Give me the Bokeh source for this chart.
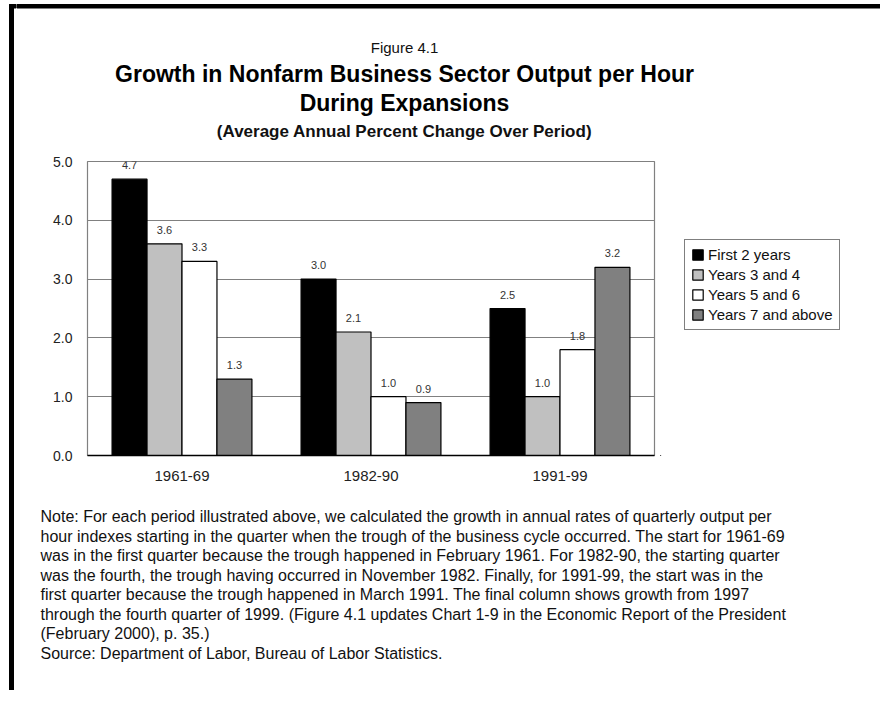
from bokeh.plotting import figure
from bokeh.layouts import row, column
from bokeh.models import (ColumnDataSource, FactorRange, Range1d, FixedTicker,
                          NumeralTickFormatter, Label, LabelSet)
from bokeh.transform import dodge
from bokeh.core.properties import value
from bokeh.embed import file_html
from bokeh.resources import INLINE

# ---------------- data ----------------
periods = ["1961-69", "1982-90", "1991-99"]
series_names = ["First 2 years", "Years 3 and 4", "Years 5 and 6", "Years 7 and above"]
first_2_years = [4.7, 3.0, 2.5]
years_3_and_4 = [3.6, 2.1, 1.0]
years_5_and_6 = [3.3, 1.0, 1.8]
years_7_and_above = [1.3, 0.9, 3.2]
y_ticks = [0, 1, 2, 3, 4, 5]

figure_label = "Figure 4.1"
title_lines = ["Growth in Nonfarm Business Sector Output per Hour",
               "During Expansions"]
subtitle = "(Average Annual Percent Change Over Period)"
note_lines = [
    "Note:  For each period illustrated above, we calculated the growth in annual rates of quarterly output per",
    "hour indexes starting in the quarter when the trough of the business cycle occurred.  The start for 1961-69",
    "was in the first quarter because the trough happened in February 1961.  For 1982-90, the starting quarter",
    "was the fourth, the trough having occurred in November 1982.  Finally, for 1991-99, the start was in the",
    "first quarter because the trough happened in March 1991.  The final column shows growth from 1997",
    "through the fourth quarter of 1999.   (Figure 4.1 updates Chart 1-9 in the Economic Report of the President",
    "(February 2000), p. 35.)",
    "Source:  Department of Labor, Bureau of Labor Statistics.",
]

# ---------------- layout constants (page pixels) ----------------
FONT = "Liberation Sans"
W, H = 880, 690
STRIP = 16                 # left strip holding the page rule
HEAD_H = 150               # heading block height
CHART_BOTTOM = 500         # chart block spans HEAD_H .. CHART_BOTTOM
CHART_RIGHT = 660          # chart figure spans STRIP .. CHART_RIGHT
FL, FT, FR, FB = 87, 161, 654, 455   # plot frame
TEXT_CX = 404


def blank(width, height, x0, x1, y0, y1):
    f = figure(width=width, height=height,
               x_range=Range1d(x0, x1), y_range=Range1d(y1, y0),
               x_axis_type=None, y_axis_type=None,
               output_backend="svg", toolbar_location=None,
               min_border=0, min_border_left=0, min_border_right=0,
               min_border_top=0, min_border_bottom=0)
    f.outline_line_color = None
    f.background_fill_color = "white"
    f.border_fill_color = "white"
    return f


# ---------------- left strip with page rule ----------------
strip = blank(STRIP, H, 0, STRIP, 0, H)
strip.quad(left=[9], right=[13], top=[4], bottom=[H], color="black")
strip.quad(left=[9], right=[STRIP], top=[4], bottom=[7.5], color="black")

# ---------------- heading ----------------
head = blank(W - STRIP, HEAD_H, STRIP, W, 0, HEAD_H)
head.quad(left=[STRIP], right=[W], top=[4], bottom=[7.5], color="black")
head.add_layout(Label(x=TEXT_CX, y=47, text=figure_label, text_align="center",
                      text_baseline="middle", text_font=FONT, text_font_size="15px",
                      text_color="#111111"))
for txt, py in zip(title_lines, [73, 102]):
    head.add_layout(Label(x=TEXT_CX, y=py, text=txt, text_align="center",
                          text_baseline="middle", text_font=FONT,
                          text_font_size="23px", text_font_style="bold",
                          text_color="#000000"))
head.add_layout(Label(x=TEXT_CX, y=131, text=subtitle, text_align="center",
                      text_baseline="middle", text_font=FONT, text_font_size="17px",
                      text_font_style="bold", text_color="#111111"))

# ---------------- chart ----------------
cols = ["first", "y34", "y56", "y7"]
series = [first_2_years, years_3_and_4, years_5_and_6, years_7_and_above]
data = {"period": periods}
for c, s in zip(cols, series):
    data[c] = s
    data[c + "_txt"] = ["%.1f" % v for v in s]
src = ColumnDataSource(data)

cw = CHART_RIGHT - STRIP
ch = CHART_BOTTOM - HEAD_H
p = figure(width=cw, height=ch,
           x_range=FactorRange(*periods, range_padding=0),
           y_range=Range1d(0, 5),
           output_backend="svg", toolbar_location=None,
           min_border_left=FL - STRIP, min_border_right=CHART_RIGHT - FR,
           min_border_top=FT - HEAD_H, min_border_bottom=CHART_BOTTOM - FB)
p.title.visible = False
p.background_fill_color = "white"
p.border_fill_color = "white"
p.outline_line_color = "#808080"
p.outline_line_width = 1.2

p.xgrid.grid_line_color = None
p.ygrid.grid_line_color = "#808080"
p.ygrid.grid_line_width = 1.2
p.ygrid.ticker = FixedTicker(ticks=y_ticks)

p.yaxis.ticker = FixedTicker(ticks=y_ticks)
p.yaxis.formatter = NumeralTickFormatter(format="0.0")
p.yaxis.axis_line_color = None
p.yaxis.major_tick_line_color = None
p.yaxis.minor_tick_line_color = None
p.yaxis.major_tick_out = 0
p.yaxis.major_tick_in = 0
p.yaxis.major_label_standoff = 15
p.yaxis.major_label_text_font = FONT
p.yaxis.major_label_text_font_size = "14px"
p.yaxis.major_label_text_color = "#222222"

p.xaxis.axis_line_color = "black"
p.xaxis.axis_line_width = 1.6
p.xaxis.major_tick_line_color = None
p.xaxis.minor_tick_line_color = None
p.xaxis.major_tick_out = 0
p.xaxis.major_tick_in = 0
p.xaxis.major_label_standoff = 15
p.xaxis.major_label_text_font = FONT
p.xaxis.major_label_text_font_size = "15px"
p.xaxis.major_label_text_color = "#222222"

offsets = [-0.2775, -0.0925, 0.0925, 0.2775]
fills = ["#000000", "#c0c0c0", "#ffffff", "#808080"]
for c, off, fill in zip(cols, offsets, fills):
    p.vbar(x=dodge("period", off, range=p.x_range), top=c, width=0.185,
           source=src, fill_color=fill, line_color="black", line_width=1.2)
    p.add_layout(LabelSet(x=dodge("period", off, range=p.x_range), y=c,
                          text=c + "_txt", source=src,
                          text_align="center", text_baseline="middle",
                          y_offset=14, text_font=value(FONT),
                          text_font_size="11px", text_color="#333333"))

# ---------------- legend block ----------------
# swatch renderers for the key: one bar each, kept outside the visible ranges
lw = W - CHART_RIGHT
lf = figure(width=lw, height=ch, x_axis_type=None, y_axis_type=None,
            x_range=Range1d(10, 11), y_range=Range1d(10, 11),
            output_backend="svg", toolbar_location=None,
            min_border=0, min_border_left=0, min_border_right=0,
            min_border_top=0, min_border_bottom=0)
lf.title.visible = False
lf.outline_line_color = None
lf.background_fill_color = "white"
lf.border_fill_color = "white"
for name, fill, s in zip(series_names, fills, series):
    lf.vbar(x=[0], top=[s[0]], width=0.5, fill_color=fill, line_color="black",
            line_width=1.2, legend_label=name)
lg = lf.legend[0]
# row layouts align plot frames, so the key is placed relative to FB
LEG_LEFT, LEG_BOTTOM = 684, 330
lg.location = (LEG_LEFT - CHART_RIGHT, FB - LEG_BOTTOM)
lg.margin = 0
lg.padding = 6
lg.spacing = 3
lg.glyph_width = 13
lg.glyph_height = 13
lg.label_height = 17
lg.label_standoff = 4
lg.label_text_font = FONT
lg.label_text_font_size = "15px"
lg.label_text_color = "#111111"
lg.border_line_color = "black"
lg.border_line_width = 1
lg.background_fill_color = "white"
lg.background_fill_alpha = 1

# ---------------- notes ----------------
notes = blank(W - STRIP, H - CHART_BOTTOM, STRIP, W, CHART_BOTTOM, H)
for i, line in enumerate(note_lines):
    notes.add_layout(Label(x=40, y=516 + 19.5 * i, text=line,
                           text_align="left", text_baseline="middle",
                           text_font=FONT, text_font_size="16px",
                           text_color="#111111"))

layout = row(strip, column(head, row(p, lf), notes))
open("out.html", "w").write(file_html(layout, INLINE))
